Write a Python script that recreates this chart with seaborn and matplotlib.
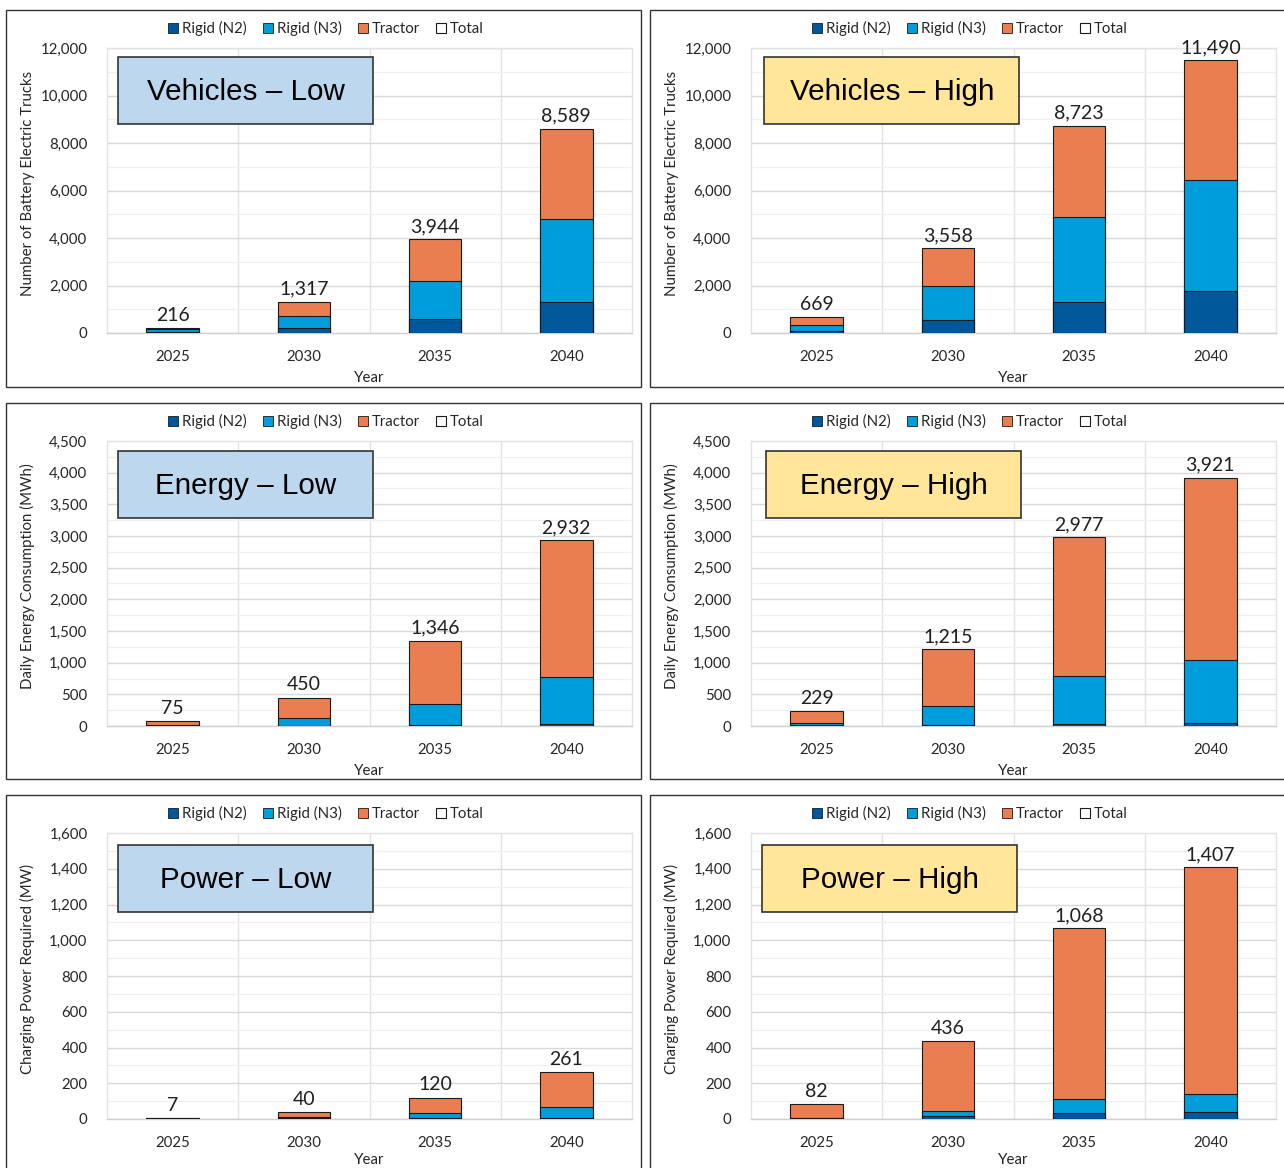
import numpy as np
import pandas as pd
import matplotlib
matplotlib.use("Agg")
import matplotlib.pyplot as plt
import seaborn as sns
from matplotlib.patches import Rectangle, Patch
from matplotlib.ticker import MultipleLocator, FixedLocator, FuncFormatter

# ---- dados ----
years = ["2025", "2030", "2035", "2040"]

veh_low_n2 = [40, 190, 590, 1300]
veh_low_n3 = [110, 520, 1620, 3510]
veh_low_tractor = [66, 607, 1734, 3779]
veh_low_total = [216, 1317, 3944, 8589]

veh_high_n2 = [100, 540, 1320, 1750]
veh_high_n3 = [250, 1430, 3550, 4680]
veh_high_tractor = [319, 1588, 3853, 5060]
veh_high_total = [669, 3558, 8723, 11490]

en_low_n2 = [3, 5, 20, 35]
en_low_n3 = [17, 115, 335, 740]
en_low_tractor = [55, 330, 991, 2157]
en_low_total = [75, 450, 1346, 2932]

en_high_n2 = [8, 10, 35, 45]
en_high_n3 = [47, 307, 750, 990]
en_high_tractor = [174, 898, 2192, 2886]
en_high_total = [229, 1215, 2977, 3921]

pw_low_n2 = [1, 3, 5, 6]
pw_low_n3 = [2, 10, 30, 60]
pw_low_tractor = [4, 27, 85, 195]
pw_low_total = [7, 40, 120, 261]

pw_high_n2 = [4, 15, 35, 40]
pw_high_n3 = [3, 30, 75, 102]
pw_high_tractor = [75, 391, 958, 1265]
pw_high_total = [82, 436, 1068, 1407]

legend_labels = ["Rigid (N2)", "Rigid (N3)", "Tractor", "Total"]

C_N2 = "#00589B"
C_N3 = "#009DDB"
C_TR = "#EA7E51"
BOX_LOW = "#BDD7EE"
BOX_HIGH = "#FFE699"

sns.set_theme(style="white")
plt.rcParams["font.family"] = ["Lato", "DejaVu Sans"]

W, H = 1284, 1168
fig = plt.figure(figsize=(W / 100, H / 100), dpi=100)

# painéis: (linha, coluna, titulo, ylabel, ymax, passo, cor caixa, x0 caixa, dados)
panels = [
    (0, 0, "Vehicles \u2013 Low", "Number of Battery Electric Trucks", 12000, 2000, BOX_LOW, 0.021,
     veh_low_n2, veh_low_n3, veh_low_tractor, veh_low_total),
    (0, 1, "Vehicles \u2013 High", "Number of Battery Electric Trucks", 12000, 2000, BOX_HIGH, 0.025,
     veh_high_n2, veh_high_n3, veh_high_tractor, veh_high_total),
    (1, 0, "Energy \u2013 Low", "Daily Energy Consumption (MWh)", 4500, 500, BOX_LOW, 0.021,
     en_low_n2, en_low_n3, en_low_tractor, en_low_total),
    (1, 1, "Energy \u2013 High", "Daily Energy Consumption (MWh)", 4500, 500, BOX_HIGH, 0.029,
     en_high_n2, en_high_n3, en_high_tractor, en_high_total),
    (2, 0, "Power \u2013 Low", "Charging Power Required (MW)", 1600, 200, BOX_LOW, 0.021,
     pw_low_n2, pw_low_n3, pw_low_tractor, pw_low_total),
    (2, 1, "Power \u2013 High", "Charging Power Required (MW)", 1600, 200, BOX_HIGH, 0.021,
     pw_high_n2, pw_high_n3, pw_high_tractor, pw_high_total),
]

# posições em pixels (referência)
ax_left = [107, 751]
ax_rows = [(48, 333), (441, 726), (833, 1119)]
box_rows = [(0.968, 0.733), (0.965, 0.730), (0.958, 0.724)]
xlabel_y = [-0.133, -0.133, -0.12]
frame_cols = [(6, 641), (650, 1292)]
frame_rows = [(10, 387), (403, 779), (795, 1175)]

for r, c, title, ylab, ymax, step, boxc, bx0, n2, n3, tr, tot in panels:
    # moldura do painel
    fx0, fx1 = frame_cols[c]
    fy0, fy1 = frame_rows[r]
    fig.patches.append(Rectangle((fx0 / W, 1 - fy1 / H), (fx1 - fx0) / W, (fy1 - fy0) / H,
                                 transform=fig.transFigure, facecolor="none",
                                 edgecolor="#333333", linewidth=1.0, zorder=0))

    top, bot = ax_rows[r]
    ax = fig.add_axes([ax_left[c] / W, 1 - bot / H, 525 / W, (bot - top) / H])

    df = pd.DataFrame({"year": years, "n2": n2, "n3": n3, "tr": tr})
    df["n23"] = df["n2"] + df["n3"]
    df["all"] = df["n23"] + df["tr"]

    for col, colr in [("all", C_TR), ("n23", C_N3), ("n2", C_N2)]:
        sns.barplot(data=df, x="year", y=col, color=colr, width=0.4, edgecolor="#1a1a1a",
                    linewidth=0.8, errorbar=None, ax=ax, zorder=3, saturation=1)

    for i, v in enumerate(tot):
        ax.annotate(f"{v:,}", (i, v), xytext=(0, 3), textcoords="offset points",
                    ha="center", va="bottom", fontsize=14, color="#1f1f1f")

    ax.set_xlim(-0.5, 3.5)
    ax.set_ylim(0, ymax)
    ax.yaxis.set_major_locator(MultipleLocator(step))
    ax.yaxis.set_minor_locator(MultipleLocator(step / 2))
    ax.yaxis.set_major_formatter(FuncFormatter(lambda v, p: f"{v:,.0f}"))
    ax.xaxis.set_minor_locator(FixedLocator([0.5, 1.5, 2.5]))
    ax.grid(axis="y", which="major", color="#D9D9D9", linewidth=1.0, zorder=0)
    ax.grid(axis="y", which="minor", color="#F0F0F0", linewidth=1.0, zorder=0)
    ax.grid(axis="x", which="minor", color="#E3E3E3", linewidth=1.0, zorder=0)
    ax.set_axisbelow(True)
    ax.tick_params(axis="both", which="both", length=0, labelsize=10.8, labelcolor="#262626")
    ax.tick_params(axis="y", pad=14)
    ax.tick_params(axis="x", pad=12)
    for s in ax.spines.values():
        s.set_color("#E3E3E3")
        s.set_linewidth(1.0)
    ax.spines["bottom"].set_color("#D0D0D0")

    ax.set_ylabel(ylab, fontsize=10.8, color="#262626")
    ax.yaxis.set_label_coords(-0.137, 0.525)
    ax.set_xlabel("Year", fontsize=10.8, color="#262626")
    ax.xaxis.set_label_coords(0.5, xlabel_y[r])

    # caixa do título
    y_top, y_bot = box_rows[r]
    ax.add_patch(Rectangle((bx0, y_bot), 0.486, y_top - y_bot, transform=ax.transAxes,
                           facecolor=boxc, edgecolor="#333333", linewidth=1.2, zorder=5))
    ax.text(bx0 + 0.243, (y_top + y_bot) / 2 - 0.005, title, transform=ax.transAxes, ha="center",
            va="center", fontsize=21.3, family=["Liberation Sans", "DejaVu Sans"],
            color="#000000", zorder=6)

    handles = [Patch(facecolor=C_N2, edgecolor="#1a1a1a", linewidth=0.6),
               Patch(facecolor=C_N3, edgecolor="#1a1a1a", linewidth=0.6),
               Patch(facecolor=C_TR, edgecolor="#1a1a1a", linewidth=0.6),
               Patch(facecolor="white", edgecolor="#1a1a1a", linewidth=0.8)]
    leg = ax.legend(handles, legend_labels, loc="center", bbox_to_anchor=(0.417, 1.068), ncol=4,
                    frameon=False, fontsize=10.8, handlelength=0.65, handleheight=0.65,
                    handletextpad=0.25, columnspacing=1.1, borderaxespad=0)
    for t in leg.get_texts():
        t.set_color("#262626")

fig.savefig("out.png", dpi=100, facecolor="white")
